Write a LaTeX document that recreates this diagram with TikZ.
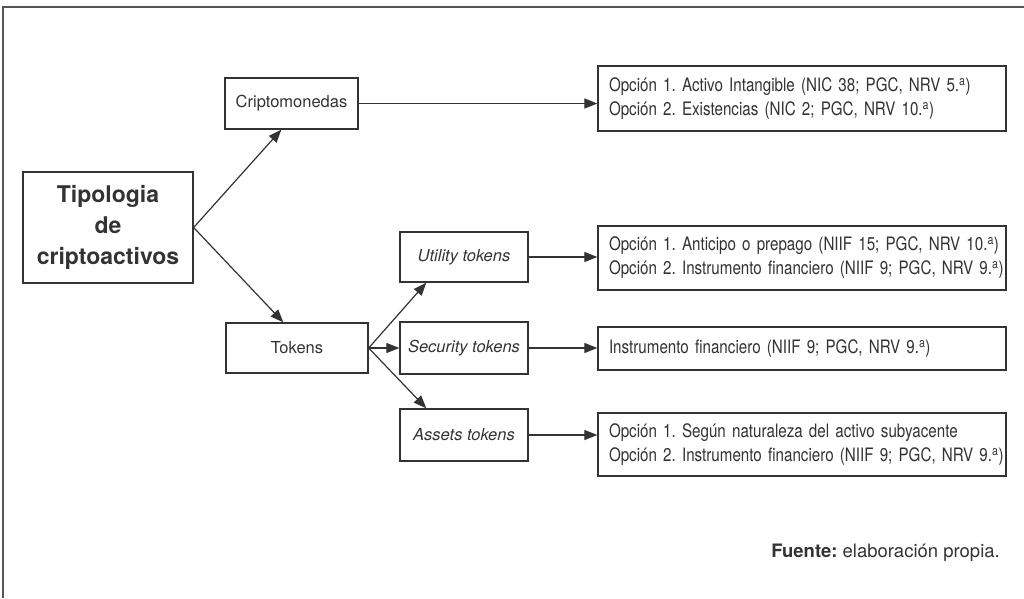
\documentclass[tikz,border=0pt]{standalone}
\usepackage{fontspec}
\setmainfont{TeX Gyre Heros}
\newfontfamily\condfont[FakeStretch=0.82]{TeX Gyre Heros}
\usetikzlibrary{arrows.meta,calc}
\definecolor{lc}{HTML}{333333}
\definecolor{tc}{HTML}{333333}
\definecolor{framec}{HTML}{555555}
\newcommand{\ordA}{.\textsuperscript{a}}
\begin{document}
\frenchspacing
\begin{tikzpicture}[x=1pt,y=-1pt,
  box/.style={draw=lc, line width=1.3pt, inner sep=0pt, text=tc, font=\fontsize{16.5}{20}\selectfont},
  optbox/.style={draw=lc, line width=1.3pt, inner xsep=11pt, inner ysep=0pt, text width=386pt, align=left, text=tc, font=\condfont\fontsize{18.5}{24}\selectfont},
  arr/.style={-{Triangle[length=13pt,width=10pt]}, line width=1.2pt, draw=lc},
]
\useasboundingbox (0,0) rectangle (1024,598);
\draw[line width=2pt, draw=framec] (3,598) -- (3,7) -- (1024,7);

\node[box, minimum width=170pt, minimum height=111pt, align=center, font=\bfseries\fontsize{23}{31}\selectfont] (tip) at (108,227.5) {Tipologia\\de\\criptoactivos};
\node[box, minimum width=133pt, minimum height=51pt] (crip) at (291.5,103.5) {Criptomonedas};
\node[box, minimum width=142pt, minimum height=50pt] (tok) at (297,348) {Tokens};
\node[box, minimum width=128pt, minimum height=50pt] (util) at (464,257) {\itshape Utility tokens};
\node[box, minimum width=128pt, minimum height=52pt] (sec) at (464,348) {\itshape Security tokens};
\node[box, minimum width=128pt, minimum height=52pt] (ass) at (464,435) {\itshape Assets tokens};

\node[optbox, minimum height=65pt] (r1) at (802,98.5) {\mbox{Opción 1. Activo Intangible (NIC 38; PGC, NRV 5\ordA)}\\\mbox{Opción 2. Existencias (NIC 2; PGC, NRV 10\ordA)}};
\node[optbox, minimum height=64pt] (r2) at (802,258) {\mbox{Opción 1. Anticipo o prepago (NIIF 15; PGC, NRV 10\ordA)}\\\mbox{Opción 2. Instrumento financiero (NIIF 9; PGC, NRV 9\ordA)}};
\node[optbox, minimum height=43pt] (r3) at (802,348.5) {\mbox{Instrumento financiero (NIIF 9; PGC, NRV 9\ordA)}};
\node[optbox, minimum height=63pt] (r4) at (802,444.5) {\mbox{Opción 1. Según naturaleza del activo subyacente}\\\mbox{Opción 2. Instrumento financiero (NIIF 9; PGC, NRV 9\ordA)}};

\draw[arr] (tip.east) -- ($(crip.south west)+(57,0)$);
\draw[arr] (tip.east) -- ($(tok.north west)+(58,0)$);
\draw[arr] (crip.east) -- (crip.east -| r1.west);
\draw[arr] (tok.east) -- ($(util.south west)+(27,0)$);
\draw[arr] (tok.east) -- (tok.east -| sec.west);
\draw[arr] (tok.east) -- ($(ass.north west)+(27,0)$);
\draw[arr] (util.east) -- (util.east -| r2.west);
\draw[arr] (sec.east) -- (sec.east -| r3.west);
\draw[arr] (ass.east) -- (ass.east -| r4.west);

\node[anchor=east, text=tc, font=\fontsize{18.5}{22}\selectfont, inner sep=0pt] (src) at (1000,553) {\textbf{Fuente:} elaboración propia.};
\end{tikzpicture}
\end{document}
